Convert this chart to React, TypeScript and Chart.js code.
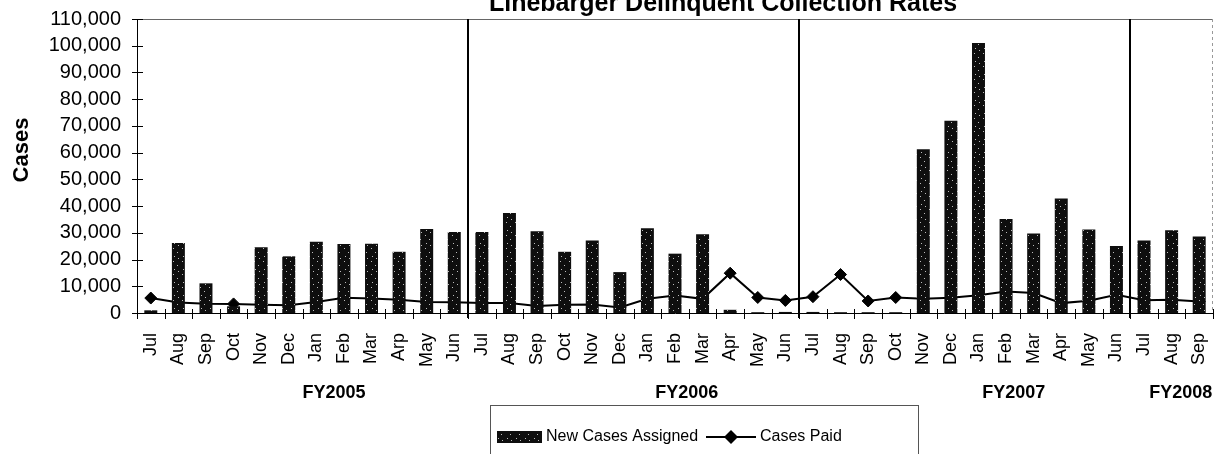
import React, { useEffect, useRef } from 'react';
import { Chart, registerables } from 'chart.js';

Chart.register(...registerables);

// ---- data ----
const months = [
  'Jul', 'Aug', 'Sep', 'Oct', 'Nov', 'Dec', 'Jan', 'Feb', 'Mar', 'Arp', 'May', 'Jun',
  'Jul', 'Aug', 'Sep', 'Oct', 'Nov', 'Dec', 'Jan', 'Feb', 'Mar', 'Apr', 'May', 'Jun',
  'Jul', 'Aug', 'Sep', 'Oct', 'Nov', 'Dec', 'Jan', 'Feb', 'Mar', 'Apr', 'May', 'Jun',
  'Jul', 'Aug', 'Sep',
];

const newCasesAssigned = [
  1000, 26200, 11100, 2500, 24600, 21200, 26700, 25800, 25900, 22900, 31400, 30300,
  30300, 37400, 30600, 22900, 27100, 15300, 31700, 22200, 29500, 1200, 300, 400,
  400, 300, 300, 300, 61300, 71900, 101000, 35200, 29700, 42800, 31200, 25100,
  27100, 31000, 28600,
];

const casesPaid = [
  5600, 3900, 3500, 3400, 3100, 2900, 4100, 5700, 5400, 5000, 4100, 4000,
  3700, 3700, 2600, 3100, 3200, 2100, 5300, 6500, 5300, 14900, 5800, 4700,
  6100, 14400, 4500, 5800, 5300, 5700, 6600, 8000, 7500, 3700, 4600, 6800,
  4800, 5000, 4300,
];

const fiscalYears = ['FY2005', 'FY2006', 'FY2007', 'FY2008'];
const fiscalYearLabelAt = [7.14, 19.93, 31.78, 37.83]; // position in category units
const fiscalYearStarts = [12, 24, 36];

const yMin = 0;
const yMax = 110000;
const yStep = 10000;

const chartTitle = 'Linebarger Delinquent Collection Rates';
const yAxisTitle = 'Cases';
const seriesNames = ['New Cases Assigned', 'Cases Paid'];

const FONT = '"Liberation Sans", Arial, Helvetica, sans-serif';

function makeStipple(ctx: CanvasRenderingContext2D) {
  const c = document.createElement('canvas');
  c.width = 9;
  c.height = 13;
  const g = c.getContext('2d')!;
  g.fillStyle = '#0e0e0e';
  g.fillRect(0, 0, 9, 13);
  g.fillStyle = '#bcbcbc';
  [[2, 1], [6, 5], [3, 9], [7, 11]].forEach(([px, py]) => g.fillRect(px, py, 1, 1));
  return ctx.createPattern(c, 'repeat') as CanvasPattern;
}

export default function App() {
  const ref = useRef<HTMLCanvasElement | null>(null);

  useEffect(() => {
    document.body.style.margin = '0';
    const canvas = ref.current!;
    const ctx0 = canvas.getContext('2d')!;
    const stipple = makeStipple(ctx0);

    const overlay = {
      id: 'overlay',
      afterDatasetsDraw(chart: any) {
        const { ctx, chartArea: a, scales } = chart;
        const y = scales.y;
        const cw = (a.right - a.left) / months.length;
        ctx.save();
        // frame top and right
        ctx.strokeStyle = '#666';
        ctx.lineWidth = 1;
        ctx.beginPath();
        ctx.moveTo(a.left, Math.round(a.top) + 0.5);
        ctx.lineTo(a.right, Math.round(a.top) + 0.5);
        ctx.stroke();
        ctx.setLineDash([3, 3]);
        ctx.strokeStyle = '#999';
        ctx.beginPath();
        ctx.moveTo(Math.round(a.right) - 0.5, a.top);
        ctx.lineTo(Math.round(a.right) - 0.5, a.bottom);
        ctx.stroke();
        ctx.setLineDash([]);
        // fiscal year separators
        ctx.strokeStyle = '#000';
        ctx.lineWidth = 2;
        fiscalYearStarts.forEach((i) => {
          const px = Math.round(a.left + i * cw);
          ctx.beginPath();
          ctx.moveTo(px, a.top);
          ctx.lineTo(px, a.bottom + 5);
          ctx.stroke();
        });
        // y tick crosses
        ctx.lineWidth = 1;
        ctx.strokeStyle = '#000';
        y.ticks.forEach((t: any) => {
          const py = Math.round(y.getPixelForValue(t.value)) + 0.5;
          ctx.beginPath();
          ctx.moveTo(a.left - 5, py);
          ctx.lineTo(a.left + 6, py);
          ctx.stroke();
        });
        // x tick marks at category boundaries
        for (let i = 0; i <= months.length; i++) {
          const px = Math.round(a.left + i * cw) + 0.5;
          ctx.beginPath();
          ctx.moveTo(px, a.bottom - 4);
          ctx.lineTo(px, a.bottom + 6);
          ctx.stroke();
        }
        // fiscal year labels
        ctx.fillStyle = '#000';
        ctx.font = `bold 18px ${FONT}`;
        ctx.textAlign = 'center';
        ctx.textBaseline = 'middle';
        fiscalYears.forEach((fy, i) => {
          ctx.fillText(fy, a.left + fiscalYearLabelAt[i] * cw, 393);
        });
        ctx.restore();
      },
      afterDraw(chart: any) {
        const { ctx } = chart;
        ctx.save();
        // title (cut at top edge as in the scan)
        ctx.fillStyle = '#000';
        ctx.font = `bold 25px ${FONT}`;
        ctx.textAlign = 'center';
        ctx.textBaseline = 'alphabetic';
        ctx.fillText(chartTitle, 723, 11);
        // y-axis title
        ctx.save();
        ctx.translate(22, 150);
        ctx.rotate(-Math.PI / 2);
        ctx.font = `bold 22px ${FONT}`;
        ctx.textBaseline = 'middle';
        ctx.fillText(yAxisTitle, 0, 0);
        ctx.restore();
        // legend
        ctx.strokeStyle = '#555';
        ctx.lineWidth = 1;
        ctx.strokeRect(490.5, 405.5, 428, 60);
        const ds = chart.data.datasets;
        const ly = 437;
        ctx.fillStyle = stipple;
        ctx.fillRect(497, ly - 6, 45, 12);
        ctx.fillStyle = '#000';
        ctx.font = `16px ${FONT}`;
        ctx.textAlign = 'left';
        ctx.textBaseline = 'middle';
        ctx.fillText(ds[0].label, 546, ly);
        ctx.strokeStyle = '#000';
        ctx.lineWidth = 2;
        ctx.beginPath();
        ctx.moveTo(706, ly);
        ctx.lineTo(756, ly);
        ctx.stroke();
        ctx.beginPath();
        ctx.moveTo(731, ly - 7);
        ctx.lineTo(738, ly);
        ctx.lineTo(731, ly + 7);
        ctx.lineTo(724, ly);
        ctx.closePath();
        ctx.fill();
        ctx.fillText(ds[1].label, 760, ly);
        ctx.restore();
      },
    };

    const chart = new Chart(canvas, {
      type: 'bar',
      data: {
        labels: months,
        datasets: [
          {
            type: 'bar',
            label: seriesNames[0],
            data: newCasesAssigned,
            backgroundColor: stipple,
            borderWidth: 0,
            categoryPercentage: 1,
            barPercentage: 0.47,
            order: 0,
          },
          {
            type: 'line',
            label: seriesNames[1],
            data: casesPaid,
            borderColor: '#000',
            borderWidth: 2,
            backgroundColor: '#000',
            pointStyle: 'rectRot',
            pointRadius: 6,
            pointBackgroundColor: '#000',
            pointBorderColor: '#000',
            pointBorderWidth: 1,
            tension: 0,
            fill: false,
            order: 1,
          } as any,
        ],
      },
      options: {
        responsive: false,
        animation: false,
        layout: { padding: { top: 19, right: 4, left: 0, bottom: 0 } },
        plugins: {
          legend: { display: false },
          title: { display: false },
          tooltip: { enabled: false },
        },
        scales: {
          x: {
            offset: true,
            grid: { display: false, drawTicks: false },
            border: { display: true, color: '#000', width: 1 },
            ticks: {
              autoSkip: false,
              maxRotation: 90,
              minRotation: 90,
              padding: 20,
              color: '#000',
              font: { family: FONT, size: 18 },
            },
            afterFit: (s: any) => {
              s.height = 141;
              s.paddingLeft = 0;
              s.paddingRight = 0;
            },
          },
          y: {
            min: yMin,
            max: yMax,
            grid: { display: false, drawTicks: false },
            border: { display: true, color: '#000', width: 1 },
            ticks: {
              stepSize: yStep,
              autoSkip: false,
              padding: 16,
              color: '#000',
              font: { family: FONT, size: 20 },
              callback: (v: any) => Number(v).toLocaleString('en-US'),
            },
            afterFit: (s: any) => {
              s.width = 137;
              s.paddingTop = 0;
              s.paddingBottom = 0;
            },
          },
        },
      },
      plugins: [overlay],
    });

    return () => chart.destroy();
  }, []);

  return (
    <div style={{ width: 1220, height: 454, background: '#fff' }}>
      <canvas ref={ref} width={1220} height={454} style={{ display: 'block' }} />
    </div>
  );
}
